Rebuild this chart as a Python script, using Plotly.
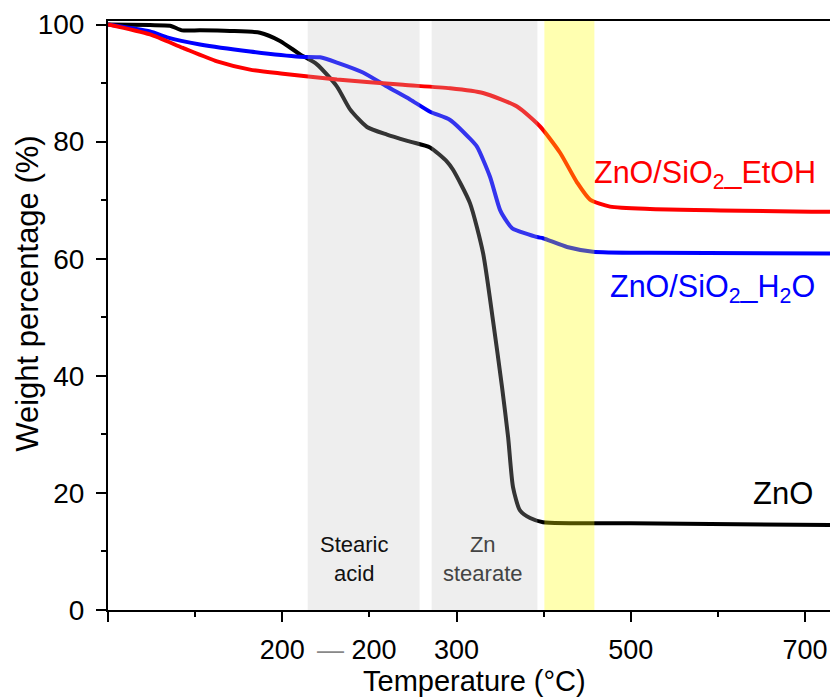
import plotly.graph_objects as go

# ---- data (temperature axis units, weight %) ----
zno_T = [100, 124.1, 135.6, 142.5, 152.8, 170, 187.2, 198.7, 210.2, 219.9, 231.4, 238.9,
         248.6, 260.1, 273.3, 284.8, 294.5, 298.0, 307.7, 315.2, 320.9, 326.1, 329.6,
         332.4, 336.4, 342.2, 349.6, 400, 514.3]
zno_W = [100.0, 99.9, 99.8, 99.0, 99.0, 98.9, 98.6, 97.2, 94.9, 93.2, 89.4, 85.5,
         82.5, 81.2, 80.0, 79.0, 76.6, 75.2, 69.5, 61.0, 49.5, 38.1, 29.5,
         21.0, 17.0, 15.7, 15.0, 14.8, 14.5]

h2o_T = [100, 124.1, 133.9, 152.8, 181.5, 210.2, 221.7, 231.4, 246.3, 260.1, 273.3, 284.8,
         296.3, 307.7, 311.8, 319.2, 325.0, 329.0, 332.0, 346.2, 349.6, 363.4, 378.3, 411.0, 514.3]
h2o_W = [100.0, 98.8, 97.8, 96.6, 95.4, 94.5, 94.4, 93.5, 91.8, 89.4, 87.2, 85.1,
         83.7, 80.5, 79.1, 74.0, 68.3, 66.3, 65.2, 63.7, 63.5, 62.0, 61.2, 61.0, 60.9]

etoh_T = [100, 124.1, 143.0, 162.6, 181.5, 200.4, 231.4, 269.3, 296.3, 315.2,
          334.7, 347.9, 359.4, 369.2, 376.6, 388.1, 411.0, 514.3]
etoh_W = [100.0, 98.3, 96.0, 93.7, 92.3, 91.6, 90.6, 89.7, 89.1, 88.3,
          86.0, 82.6, 78.1, 73.0, 70.1, 68.9, 68.5, 68.0]

# shaded temperature windows
stearic_range = [214.6, 278.8]
znst_range = [285.7, 346.4]
yellow_range = [350.4, 379.1]

x_tickvals = [100, 200, 300, 400, 500]
x_ticktext = ["", "200", "300", "500", "700"]

FONT = "Liberation Sans, Arial, sans-serif"

fig = go.Figure()
for T, W, col, name in [(zno_T, zno_W, "#000000", "ZnO"),
                        (h2o_T, h2o_W, "#0000FF", "ZnO/SiO2_H2O"),
                        (etoh_T, etoh_W, "#FF0000", "ZnO/SiO2_EtOH")]:
    fig.add_trace(go.Scatter(x=T, y=W, mode="lines", name=name,
                             line=dict(color=col, width=4, shape="spline", smoothing=0.6),
                             showlegend=False))

for rng, col in [(stearic_range, "rgba(191,191,191,0.27)"),
                 (znst_range, "rgba(191,191,191,0.27)"),
                 (yellow_range, "rgba(255,255,0,0.31)")]:
    fig.add_shape(type="rect", xref="x", yref="paper", x0=rng[0], x1=rng[1], y0=0, y1=1,
                  fillcolor=col, line=dict(width=0), layer="above")

ann = [
    dict(x=(stearic_range[0] + stearic_range[1]) / 2 - 5.5, y=8.7, text="Stearic<br>acid",
         font=dict(size=22, color="#111111")),
    dict(x=(znst_range[0] + znst_range[1]) / 2 - 1, y=8.7, text="Zn<br>stearate",
         font=dict(size=22, color="#444444")),
    dict(x=442.6, y=74.3, text="ZnO/SiO<sub>2</sub>_EtOH", font=dict(size=30.5, color="#FF0000")),
    dict(x=446.6, y=54.9, text="ZnO/SiO<sub>2</sub>_H<sub>2</sub>O", font=dict(size=30.5, color="#0000FF")),
    dict(x=487.4, y=19.9, text="ZnO", font=dict(size=31, color="#000000")),
]
for a in ann:
    fig.add_annotation(xref="x", yref="y", showarrow=False, xanchor="center", yanchor="middle",
                       font_family=FONT, **a)

fig.add_annotation(xref="x", yref="paper", x=242.6, y=-0.068, showarrow=False,
                   xanchor="center", yanchor="middle",
                   text="<span style='color:#888888'>—</span> 200",
                   font=dict(size=27, color="#000000", family=FONT))

# y-axis title (placed as annotation to match its off-centre position)
fig.add_annotation(xref="paper", yref="paper", x=-0.111, y=0.5366, showarrow=False,
                   xanchor="center", yanchor="middle", textangle=-90,
                   text="Weight percentage (%)", font=dict(size=31, color="#000000", family=FONT))

# x-axis title (annotation for exact placement)
fig.add_annotation(xref="paper", yref="paper", x=0.508, y=-0.121, showarrow=False,
                   xanchor="center", yanchor="middle",
                   text="Temperature (°C)", font=dict(size=29, color="#000000", family=FONT))

fig.update_layout(
    width=830, height=700,
    margin=dict(l=108, r=0, t=21, b=90),
    paper_bgcolor="white", plot_bgcolor="white",
    font=dict(family=FONT, size=28, color="#000000"),
    xaxis=dict(range=[100, 514.3], tickvals=x_tickvals, ticktext=x_ticktext,
               tickfont=dict(size=27),
               ticks="outside", ticklen=10, tickwidth=2, tickcolor="#000",
               showline=True, linewidth=2, linecolor="#000", mirror=True,
               showgrid=False, zeroline=False, ticklabelstandoff=5,
               minor=dict(ticks="outside", ticklen=5, tickwidth=2, tickcolor="#000",
                          dtick=50, tick0=100, showgrid=False)),
    yaxis=dict(range=[0, 100.6], tickvals=[0, 20, 40, 60, 80, 100],
               ticks="outside", ticklen=10, tickwidth=2, tickcolor="#000",
               showline=True, linewidth=2, linecolor="#000", mirror=False,
               showgrid=False, zeroline=False, ticklabelstandoff=6,
               minor=dict(ticks="outside", ticklen=5, tickwidth=2, tickcolor="#000",
                          dtick=10, tick0=0, showgrid=False)),
)

fig.write_html("out.html")
